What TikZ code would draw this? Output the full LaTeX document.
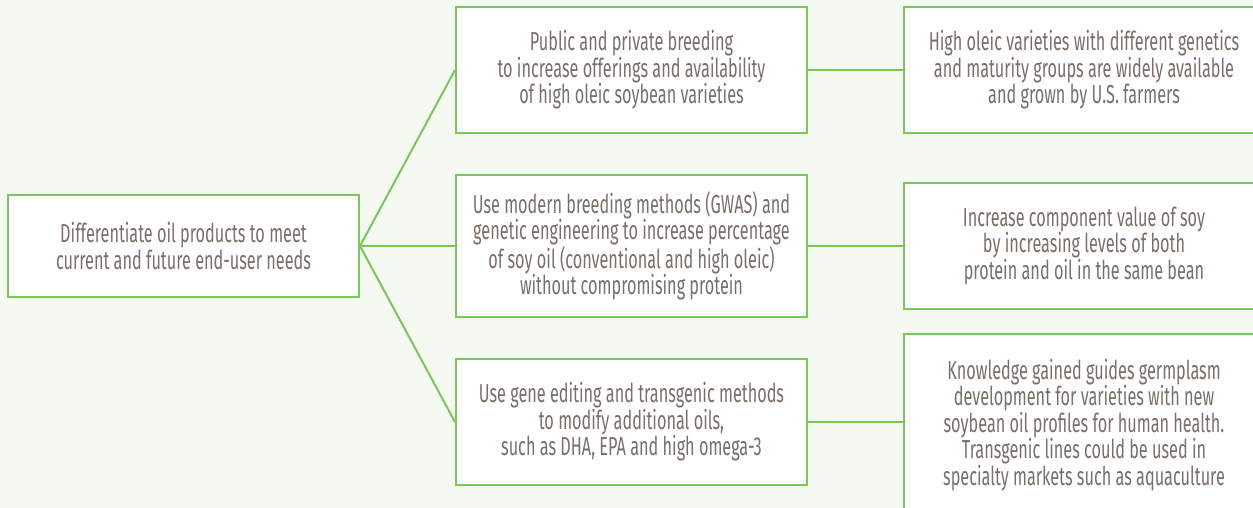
\documentclass[tikz,border=0pt]{standalone}
\usepackage{fontspec}
\setmainfont{Fira Sans}[FakeStretch=0.625]
\definecolor{bg}{HTML}{F4F9F1}
\definecolor{gr}{HTML}{78C85A}
\definecolor{txt}{HTML}{7A6F68}
\begin{document}
\begin{tikzpicture}[x=1pt,y=-1pt,
  box/.style={draw=gr, fill=white, line width=2pt, align=center, text=txt,
    font=\fontsize{26}{26.5}\selectfont, inner sep=0pt, minimum width=351pt},
  conn/.style={draw=gr, line width=2pt}]
\fill[bg] (0,0) rectangle (1253,508);
\useasboundingbox (0,0) rectangle (1253,508);
\node[box, minimum height=102pt] (A) at (183.5,246) {Differentiate oil products to meet\\current and future end-user needs};
\node[box, minimum height=126pt] (B1) at (631.5,70) {Public and private breeding\\to increase offerings and availability\\of high oleic soybean varieties};
\node[box, minimum height=142pt] (B2) at (631.5,246) {Use modern breeding methods (GWAS) and\\genetic engineering to increase percentage\\of soy oil (conventional and high oleic)\\without compromising protein};
\node[box, minimum height=126pt] (B3) at (631.5,422) {Use gene editing and transgenic methods\\to modify additional oils,\\such as DHA, EPA and high omega-3};
\node[box, minimum width=360pt, minimum height=126pt] (C1) at (1084,70) {High oleic varieties with different genetics\\and maturity groups are widely available\\and grown by U.S. farmers};
\node[box, minimum width=360pt, minimum height=126pt] (C2) at (1084,246) {Increase component value of soy\\by increasing levels of both\\protein and oil in the same bean};
\node[box, minimum width=360pt, minimum height=182pt] (C3) at (1084,425) {Knowledge gained guides germplasm\\development for varieties with new\\soybean oil profiles for human health.\\Transgenic lines could be used in\\specialty markets such as aquaculture};
\draw[conn] (A.east) -- (B1.west);
\draw[conn] (A.east) -- (B2.west);
\draw[conn] (A.east) -- (B3.west);
\draw[conn] (B1.east) -- (C1.west);
\draw[conn] (B2.east) -- (C2.west);
\draw[conn] (B3.east) -- (B3.east -| C3.west);
\end{tikzpicture}
\end{document}
